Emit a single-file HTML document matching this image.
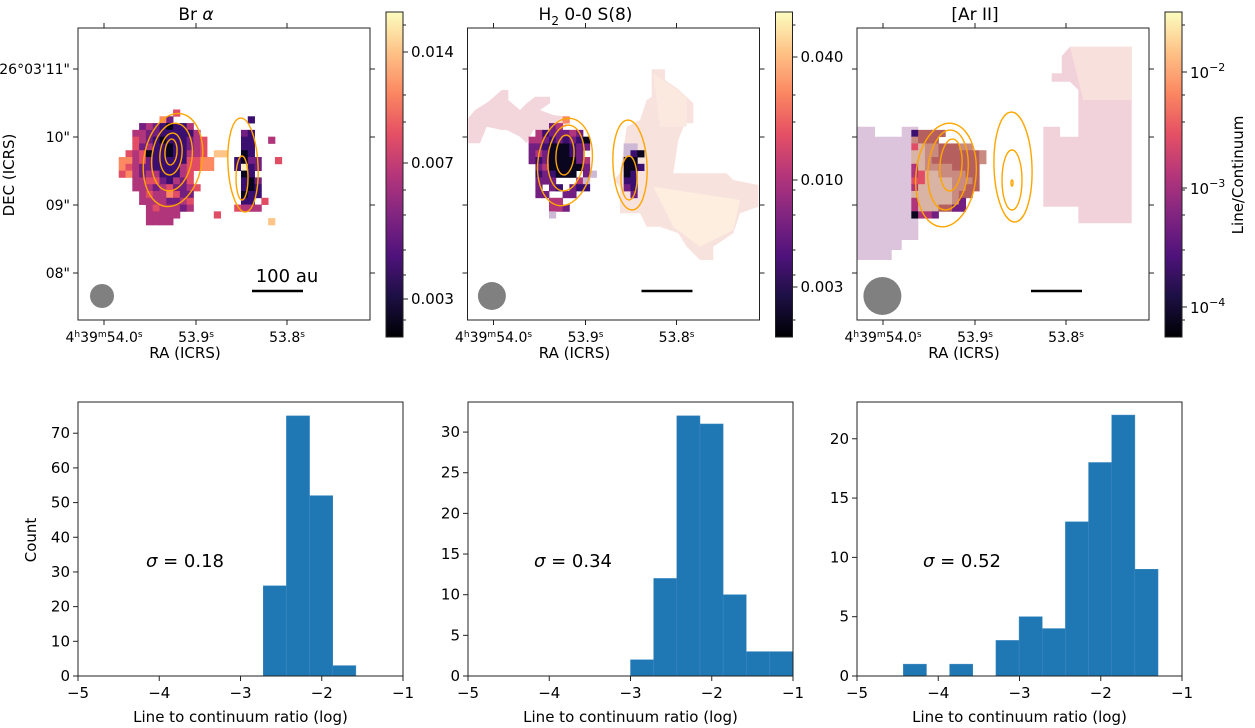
<!DOCTYPE html>
<html><head><meta charset="utf-8"><style>
html,body{margin:0;padding:0;background:#fff;}
svg{display:block;font-family:"DejaVu Sans","Liberation Sans",sans-serif;}
</style></head><body>
<svg id="fig" width="1255" height="728" viewBox="0 0 1255 728" xmlns="http://www.w3.org/2000/svg">
<defs>
<linearGradient id="magma" x1="0" y1="1" x2="0" y2="0">
<stop offset="0" stop-color="#000004"/><stop offset="0.125" stop-color="#1c1044"/><stop offset="0.25" stop-color="#4f127b"/><stop offset="0.375" stop-color="#812581"/><stop offset="0.5" stop-color="#b5367a"/><stop offset="0.625" stop-color="#e55064"/><stop offset="0.75" stop-color="#fb8761"/><stop offset="0.875" stop-color="#fec287"/><stop offset="1" stop-color="#fcfdbf"/>
</linearGradient>
</defs>
<g id="maps"></g>
<g id="hists"></g>
</svg>
<script>
// ---------- histogram data ----------
const hist1Edges = [-2.72, -2.435, -2.15, -1.865, -1.58];
const hist1Counts = [26, 75, 52, 3];
const hist2Edges = [-3.0, -2.715, -2.43, -2.145, -1.86, -1.575, -1.29, -1.0];
const hist2Counts = [2, 12, 32, 31, 10, 3, 3];
const hist3Edges = [-4.43, -4.145, -3.86, -3.575, -3.29, -3.005, -2.72, -2.435, -2.15, -1.865, -1.58, -1.295];
const hist3Counts = [1, 0, 1, 0, 3, 5, 4, 13, 18, 22, 9];
const hist1YTicks = [0, 10, 20, 30, 40, 50, 60, 70];
const hist2YTicks = [0, 5, 10, 15, 20, 25, 30];
const hist3YTicks = [0, 5, 10, 15, 20];
const histXTicks = [-5, -4, -3, -2, -1];
const sigmaLabels = ["0.18", "0.34", "0.52"];
// ---------- map pixel grids ----------
const map1Grid = [
"........r",
"......op...........d",
"...pmpdkddm.........",
"..mmppdddddm......pd",
"..rmpdkdddpmr.....dd..m",
"..rpmddkddpmr.....dd",
".rmrkddkddmmr.yy..kd",
"oomrpdddddrroo...dkpp..r",
"ormppddddmrroo...dwdp",
"rompmmdddmr.......kd",
"..mmrrpdmpr.......dkp",
"..mmmpmrppmr......dkd",
"...mrmmorpp.......kdd",
"...mmmmppmr.......dd.r",
"....mrmmmpm......rmmm",
"....mmmmm.....r......",
"....mmmm..............y"];
const map2Grid = [
".........o",
".......pm.",
".....mdpppmp",
"....mmpdpdpdk",
"....ppdkkkdpp.....aa",
"....pmpkkkdp......adk",
"....pdpkkkkpm.....kk",
".....pmkkkkkp.....kkd",
".....dpdkkk.pa....kd",
".....ppp...ma.....dd",
".....p.pd.pdd.....pd",
".....pp..pp........p",
".......mm...",
".......mmp",
".......a"];
const map3Grid = [
"dgggg.",
"hggg",
"rfhhggghh",
"ffhhggggggh",
"ffhgggggggh",
"mfhhhhgggg.",
"mrffhhhhgg",
"rrffffhhhg",
"mfffffhhgg",
"ffffffhgg",
"mfffffhp",
"mfffggpp",
"kmmp"];
const pal = {k:"#0a0620",d:"#3b0f70",p:"#721f81",m:"#b0357a",r:"#e24d66",o:"#fc8961",y:"#fec488",w:"#fcf0c0",a:"#cdb8d6",f:"#d9b3a3",g:"#b5605f",h:"#c98a80"};

const NS="http://www.w3.org/2000/svg";
function el(tag, attrs, parent, txt){const e=document.createElementNS(NS,tag);for(const k in attrs)e.setAttribute(k,attrs[k]);if(txt!==undefined)e.textContent=txt;parent.appendChild(e);return e;}
const maps=document.getElementById('maps');
const hists=document.getElementById('hists');

const panelX=[78,467.5,857];
const AX_T=28, AX_S=292, PIX=292/43;

function drawGrid(g, x0, grid, r0, c0){
  grid.forEach((row,i)=>{for(let j=0;j<row.length;j++){const ch=row[j];if(ch==='.')continue;
    const c=el('rect',{x:x0+(c0+j)*PIX,y:AX_T+(r0+i)*PIX,width:PIX+0.4,height:PIX+0.4,fill:pal[ch]},g);
    
    }});
}
function poly(g,ox,pts,fill,name){
  const s=pts.map(p=>(ox+p[0]/3).toFixed(1)+","+(p[1]/3).toFixed(1)).join(" ");
  const p=el('polygon',{points:s,fill:fill},g);
  
  
}
function ell(g,cx,cy,rx,ry,rot){
  const e=el('ellipse',{cx:cx,cy:cy,rx:rx,ry:ry,fill:"none",stroke:"#ffa500","stroke-width":1.4,transform:`rotate(${rot} ${cx} ${cy})`},g);
  
  
}

for(let p=0;p<3;p++){
  const x0=panelX[p];
  const g=el('g',{},maps);
  
  
  if(p===1){
    poly(g,420,[[695,208],[735,208],[735,240],[775,268],[800,290],[820,310],[820,370],[795,370],[775,420],[760,520],[920,520],[940,540],[1015,555],[1015,620],[960,640],[940,700],[880,740],[880,780],[840,780],[800,740],[775,700],[720,680],[680,680],[660,640],[600,640],[600,560],[580,540],[600,520],[620,380],[660,360],[680,300],[695,290]],"#f8e2de","pale-region");
    poly(g,420,[[145,355],[165,330],[205,305],[245,270],[265,270],[265,300],[300,330],[320,310],[345,290],[390,290],[390,310],[360,330],[400,345],[440,350],[440,380],[400,390],[340,390],[320,430],[300,410],[260,390],[245,390],[200,380],[180,430],[145,430]],"#f3d6dc","pale-region");
    poly(g,420,[[700,560],[960,600],[940,690],[840,740],[760,680]],"#fdeee0","pale-region");
    poly(g,420,[[700,220],[800,290],[800,380],[720,380]],"#fbe9e0","pale-region");
  }
  if(p===2){
    poly(g,830,[[80,380],[135,380],[135,410],[215,410],[215,380],[265,380],[265,720],[215,720],[215,750],[185,750],[185,780],[80,780]],"#dcc4dc","pale-region");
    poly(g,830,[[695,168],[720,140],[905,140],[905,670],[745,670],[745,620],[640,620],[640,380],[690,380],[690,410],[745,410],[745,270],[720,245],[665,245],[665,220],[695,220]],"#f2d2da","pale-region");
    poly(g,830,[[720,140],[905,140],[905,300],[760,300]],"#f8e0dc","pale-region");
  }
  if(p===0) drawGrid(g,x0,map1Grid,12,6);
  if(p===1) drawGrid(g,x0,map2Grid,13,5);
  if(p===2) drawGrid(g,x0,map3Grid,15,8);
  if(p===0){ell(g,173,160,29,47,10);ell(g,172,157,20,34,8);ell(g,171,154,11,21,6);ell(g,171,152,6,13,4);ell(g,243,165,15,47,-3);ell(g,242,178,6,22,0);}
  if(p===1){ell(g,565,162,27,44,8);ell(g,566,158,18,33,6);ell(g,565,155,9,20,4);ell(g,630,165,17,45,-3);ell(g,629,178,8,22,0);}
  if(p===2){ell(g,946,175,30,52,6);ell(g,948,170,20,40,5);ell(g,951,165,11,26,4);ell(g,1013,167,19,55,-2);ell(g,1012,180,10,30,0);ell(g,1012,183,1,3,0);}
  const br=[12,14,19][p];
  const bc=el('circle',{cx:x0+24+(br-12)*0.2,cy:296,r:br,fill:"#808080"},g);
  
  const sb=el('line',{x1:x0+174,x2:x0+225,y1:291,y2:291,stroke:"#000","stroke-width":2.5},g);
  
  if(p===0){const t=el('text',{x:x0+209,y:282,"font-size":18,"text-anchor":"middle"},g,"100 au");}
  const fr=el('rect',{x:x0,y:AX_T,width:AX_S,height:AX_S,fill:"none",stroke:"#222","stroke-width":1},g);
  
  [26,118,209].forEach(dx=>{
    el('line',{x1:x0+dx,x2:x0+dx,y1:AX_T,y2:AX_T-5,stroke:"#222"},g);
    el('line',{x1:x0+dx,x2:x0+dx,y1:AX_T+AX_S,y2:AX_T+AX_S+5,stroke:"#222"},g);
  });
  [69,137,205,273].forEach(y=>{
    el('line',{x1:x0,x2:x0-5,y1:y,y2:y,stroke:"#222"},g);
    el('line',{x1:x0+AX_S,x2:x0+AX_S+5,y1:y,y2:y,stroke:"#222"},g);
  });
  const xl=el('text',{x:x0+26,y:342,"font-size":14,"text-anchor":"middle"},g);
  xl.innerHTML='4<tspan dy="-5" font-size="9">h</tspan><tspan dy="5">39</tspan><tspan dy="-5" font-size="9">m</tspan><tspan dy="5">54.0</tspan><tspan dy="-5" font-size="9">s</tspan>';
  
  [["53.9",118],["53.8",209]].forEach(a=>{const t=el('text',{x:x0+a[1],y:342,"font-size":14,"text-anchor":"middle"},g);t.innerHTML=a[0]+'<tspan dy="-5" font-size="9">s</tspan>';});
  const ra=el('text',{x:x0+107,y:358,"font-size":15,"text-anchor":"middle"},g,"RA (ICRS)");
  
  const tt=el('text',{x:x0+118,y:20,"font-size":17,"text-anchor":"middle"},g);
  if(p===0) tt.innerHTML='Br <tspan font-style="italic">α</tspan>';
  else if(p===1) tt.innerHTML='H<tspan dy="5" font-size="12">2</tspan><tspan dy="-5"> 0-0 S(8)</tspan>';
  else tt.textContent='[Ar II]';
  
  if(p===0){
    [["26°03'11\"",69],["10\"",137],["09\"",205],["08\"",273]].forEach(a=>{const t=el('text',{x:70,y:a[1]+5,"font-size":14,"text-anchor":"end"},g,a[0]);});
    const dt=el('text',{x:14,y:175,"font-size":15,"text-anchor":"middle",transform:"rotate(-90 14 175)"},g,"DEC (ICRS)");
    
  }
  const cx=x0+308;
  const cb=el('rect',{x:cx,y:12,width:17,height:325,fill:"url(#magma)",stroke:"#222","stroke-width":1},g);
  
  const cbt=[[["0.014",52],["0.007",163],["0.003",299]],[["0.040",57],["0.010",180],["0.003",287]],[["10^-2",72],["10^-3",188],["10^-4",307]]][p];
  cbt.forEach(a=>{
    el('line',{x1:cx+17,x2:cx+22,y1:a[1],y2:a[1],stroke:"#222"},g);
    let t;
    if(p===2){t=el('text',{x:cx+25,y:a[1]+6,"font-size":15},g);const parts=a[0].split('^');t.innerHTML=parts[0]+'<tspan dy="-7" font-size="11">−'+parts[1].slice(1)+'</tspan>';}
    else t=el('text',{x:cx+25,y:a[1]+5,"font-size":15},g,a[0]);
    
  });
  [25,95,122,190,215,250,275,320].forEach(y=>el('line',{x1:cx+17,x2:cx+20,y1:y,y2:y,stroke:"#222"},g));
}
const lc=el('text',{x:1243,y:175,"font-size":15,"text-anchor":"middle",transform:"rotate(-90 1243 175)"},maps,"Line/Continuum");


const hx=[78,468,857], HW=325, HT=402, HB=676;
const hdata=[[hist1Edges,hist1Counts,hist1YTicks,79],[hist2Edges,hist2Counts,hist2YTicks,33.7],[hist3Edges,hist3Counts,hist3YTicks,23.1]];
hdata.forEach((d,i)=>{
  const [edges,counts,yt,ymax]=d;
  const x0=hx[i];
  const X=v=>x0+(v+5)/4*HW;
  const Y=v=>HB-v/ymax*(HB-HT);
  const g=el('g',{},hists);
  
  
  counts.forEach((c,k)=>{if(c<=0)return;
    const b=el('rect',{x:X(edges[k]),y:Y(c),width:X(edges[k+1])-X(edges[k]),height:HB-Y(c),fill:"#1f77b4",stroke:"#3f8ac2","stroke-width":0.5},g);
    
    
  });
  const fr=el('rect',{x:x0,y:HT,width:HW,height:HB-HT,fill:"none",stroke:"#222","stroke-width":1},g);
  
  yt.forEach(v=>{el('line',{x1:x0,x2:x0-5,y1:Y(v),y2:Y(v),stroke:"#222"},g);
    const t=el('text',{x:x0-8,y:Y(v)+5,"font-size":15,"text-anchor":"end"},g,String(v));
    });
  histXTicks.forEach(v=>{el('line',{x1:X(v),x2:X(v),y1:HB,y2:HB+5,stroke:"#222"},g);
    const t=el('text',{x:X(v),y:HB+22,"font-size":15,"text-anchor":"middle"},g,"−"+Math.abs(v));
    });
  const xt=el('text',{x:x0+HW/2,y:722,"font-size":15,"text-anchor":"middle"},g,"Line to continuum ratio (log)");
  
  const st=el('text',{x:x0+[107,105,105][i],y:567,"font-size":18,"text-anchor":"middle"},g);
  st.innerHTML='<tspan font-style="italic">σ</tspan> = '+sigmaLabels[i];
  
});
const ct=el('text',{x:36,y:540,"font-size":15,"text-anchor":"middle",transform:"rotate(-90 36 540)"},hists,"Count");

</script>
</body></html>
